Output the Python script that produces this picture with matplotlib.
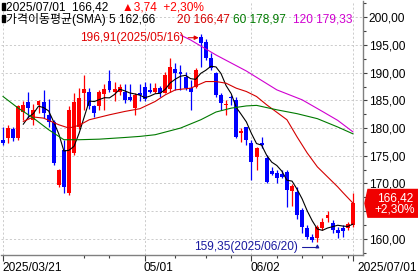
import numpy as np
import pandas as pd
import matplotlib
matplotlib.use("Agg")
import matplotlib.pyplot as plt
from matplotlib.patches import Polygon, Rectangle
from matplotlib.ticker import MultipleLocator, FixedLocator, FuncFormatter
import matplotlib.transforms as mtransforms

plt.rcParams["font.family"] = ["Liberation Sans", "Noto Sans CJK KR", "DejaVu Sans"]

# US session days shown on the chart (Good Friday, Memorial Day, Juneteenth closed)
HOLIDAYS = ["2025-04-18", "2025-05-26", "2025-06-19"]
dates = pd.bdate_range("2025-03-21", "2025-07-01", freq="C", holidays=HOLIDAYS)

opens = [177.85, 178.16, 179.78, 178.16, 182.96, 184.77, 181.46, 184.20, 184.77, 182.36,
         181.16, 169.73, 176.05, 168.23, 175.45, 180.25, 186.28, 186.50, 183.90, 184.00,
         186.20, 188.50, 186.60, 186.60, 186.60, 185.70, 183.60, 186.40, 187.50, 186.90,
         186.60, 187.30, 186.40, 187.00, 190.60, 190.20, 189.30, 187.20, 187.50, 196.50,
         195.60, 192.60, 189.90, 186.00, 184.20, 185.70, 185.00, 179.10, 180.25, 177.25,
         174.84, 177.37, 174.55, 172.30, 171.95, 171.80, 172.10, 168.70, 168.50, 165.22,
         161.90, 160.40, 160.10, 161.90, 163.70, 162.80, 161.60, 161.90, 161.90, 162.50]
highs = [180.20, 180.50, 180.20, 184.17, 184.80, 186.60, 184.40, 185.00, 186.90, 185.20,
         181.50, 172.70, 177.90, 183.90, 186.30, 187.20, 189.58, 187.20, 184.10, 186.90,
         188.00, 190.50, 188.40, 188.00, 188.00, 188.00, 186.30, 188.00, 188.30, 188.10,
         188.10, 187.60, 190.20, 192.60, 191.70, 191.40, 190.20, 188.70, 190.80, 196.91,
         196.00, 193.50, 190.20, 186.30, 185.00, 185.90, 185.70, 180.00, 180.25, 177.85,
         176.65, 178.45, 175.14, 173.03, 172.44, 172.40, 172.50, 169.90, 169.42, 165.52,
         162.50, 160.80, 162.50, 163.70, 165.00, 163.40, 162.20, 162.50, 163.10, 168.20]
lows = [177.00, 177.30, 177.60, 177.90, 181.50, 181.80, 180.60, 182.70, 181.80, 180.25,
        173.40, 169.40, 168.20, 167.92, 175.20, 179.90, 183.27, 183.40, 182.00, 183.30,
        183.20, 186.50, 184.80, 186.00, 184.50, 184.80, 182.40, 184.90, 184.90, 186.30,
        186.30, 185.70, 186.30, 186.60, 186.90, 186.90, 186.90, 183.30, 187.20, 191.10,
        192.30, 190.50, 185.70, 183.30, 182.40, 184.20, 178.20, 177.50, 176.95, 170.63,
        172.44, 176.35, 170.04, 171.53, 170.04, 171.00, 165.81, 166.00, 163.50, 161.00,
        160.00, 159.50, 159.35, 161.60, 163.00, 161.00, 160.10, 160.40, 161.60, 162.20]
closes = [177.25, 179.96, 178.16, 183.99, 184.17, 183.57, 183.27, 184.80, 182.67, 181.16,
          173.65, 172.44, 169.42, 183.27, 184.77, 185.38, 187.00, 184.00, 182.80, 186.60,
          187.00, 186.90, 187.10, 187.50, 185.10, 185.10, 186.00, 186.00, 185.20, 186.60,
          187.20, 186.40, 189.60, 191.10, 189.90, 189.80, 187.20, 186.60, 190.50, 195.30,
          192.60, 190.80, 186.00, 184.50, 184.40, 185.40, 178.40, 179.50, 177.85, 173.94,
          176.35, 176.95, 170.33, 171.70, 170.90, 171.20, 168.80, 169.55, 164.30, 162.20,
          160.40, 159.80, 162.20, 163.10, 164.30, 161.60, 161.10, 161.50, 162.68, 166.42]

# longer averages need history before the window: values
ma20_idx = [4, 6, 8, 11, 13, 15, 17, 21, 24, 27, 30, 32, 34, 37, 40, 42, 44, 46, 48,
            50, 52, 56, 58, 60, 62, 64, 66, 67, 69]
ma20_val = [181.2, 182.0, 181.8, 180.6, 180.0, 180.5, 181.5, 182.4, 183.0, 183.5, 184.8,
            186.0, 186.9, 187.2, 188.4, 188.4, 188.1, 187.2, 186.6, 185.7, 184.2, 181.5,
            178.4, 175.5, 173.0, 171.2, 169.4, 168.4, 166.47]
ma60_idx = [0, 3, 6, 9, 12, 15, 19, 24, 27, 30, 35, 39, 42, 45, 48, 50, 54, 58, 62, 66, 69]
ma60_val = [185.7, 183.6, 181.8, 179.7, 177.9, 177.9, 178.0, 178.3, 178.5, 178.8, 180.0,
            181.5, 182.9, 183.6, 184.0, 184.1, 183.3, 182.6, 181.7, 180.2, 178.97]
ma120_idx = [35, 37, 42, 48, 54, 59, 63, 66, 69]
ma120_val = [196.8, 195.9, 193.2, 190.3, 186.9, 185.1, 183.0, 181.4, 179.33]

RED = "#ff0000"
BLUE = "#0000ff"
MA_COLORS = {"5": "black", "20": "#d40000", "60": "#007a00", "120": "#d000d0"}


def kfmt(v):
    return f"{v:.2f}".replace(".", ",")


W, H = 418, 275
fig = plt.figure(figsize=(W / 100, H / 100), dpi=100)
ax = fig.add_axes([1 / W, 20 / H, 362 / W, 254 / H])

o, h, l, c = (np.array(a) for a in (opens, highs, lows, closes))
x = np.arange(len(c))
col = np.where(c >= o, RED, BLUE)

ax.vlines(x, l, h, colors=col, lw=0.9, zorder=3)
ax.bar(x, np.maximum(np.abs(c - o), 0.15), bottom=np.minimum(o, c), width=0.78,
       color=col, lw=0, zorder=4)

ma5 = pd.Series(c).rolling(5).mean()
ax.plot(x, ma5, color=MA_COLORS["5"], lw=0.8, zorder=5)
ax.plot(ma20_idx, ma20_val, color=MA_COLORS["20"], lw=0.8, zorder=5)
ax.plot(ma60_idx, ma60_val, color=MA_COLORS["60"], lw=0.8, zorder=5)
ax.plot(ma120_idx, ma120_val, color=MA_COLORS["120"], lw=0.8, zorder=5)

ax.set_xlim(-0.4, 71.0)
ax.set_ylim(157.09, 202.94)

last = c[-1]
chg = c[-1] - c[-2]
pct = chg / c[-2] * 100
TAG_HALF = 2.5


def price_label(v, _):
    # labels sitting under the price tag are hidden by it
    if abs(v - last) < TAG_HALF - 0.5:
        return ""
    return kfmt(v)


# right price axis
ax.yaxis.tick_right()
ax.yaxis.set_major_locator(MultipleLocator(5))
ax.yaxis.set_minor_locator(MultipleLocator(2.5))
ax.yaxis.set_major_formatter(FuncFormatter(price_label))
ax.tick_params(axis="y", which="major", length=3, width=0.8, pad=1, labelsize=8.6,
               color="#404040", labelcolor="black")
ax.tick_params(axis="y", which="minor", length=2, width=0.8, color="#404040")

# date axis
major_idx = [0, 28, 49, 69]
major_lab = [dates[0].strftime("%Y/%m/%d"), dates[28].strftime("%m/%d"),
             dates[49].strftime("%m/%d"), dates[69].strftime("%Y/%m/%d")]
ax.set_xticks(major_idx)
ax.set_xticklabels(major_lab)
ax.xaxis.set_minor_locator(FixedLocator([16, 21, 34, 40, 45, 54, 59, 63, 68]))
ax.tick_params(axis="x", which="major", length=4, width=0.8, pad=1, labelsize=8.6,
               color="#404040")
ax.tick_params(axis="x", which="minor", length=2.5, width=0.8, color="#404040")
for i, lab in enumerate(ax.get_xticklabels()):
    lab.set_ha("left")
    dx = 5 if i == len(major_idx) - 1 else -1
    lab.set_transform(lab.get_transform()
                      + mtransforms.ScaledTranslation(dx / 100, 0, fig.dpi_scale_trans))

ax.grid(True, axis="both", which="major", color="#c4c4c4", ls=(0, (2.5, 2.5)), lw=0.6)
ax.set_axisbelow(True)
for s in ("left", "top"):
    ax.spines[s].set_visible(False)
for s in ("right", "bottom"):
    ax.spines[s].set_color("#808080")
    ax.spines[s].set_linewidth(1.0)

# high / low markers
hi_i = int(np.argmax(h))
lo_i = int(np.argmin(l))
ax.annotate(f"{kfmt(h[hi_i])}({dates[hi_i].strftime('%Y/%m/%d')})",
            xy=(hi_i - 0.4, h[hi_i] - 0.6), xytext=(hi_i - 3.3, h[hi_i] - 0.6),
            ha="right", va="center", fontsize=8.6, color="#e00000",
            arrowprops=dict(arrowstyle="-|>", color="#e00000", lw=0.8,
                            shrinkA=1, shrinkB=0, mutation_scale=6), zorder=6)
ax.annotate(f"{kfmt(l[lo_i])}({dates[lo_i].strftime('%Y/%m/%d')})",
            xy=(lo_i, l[lo_i] - 0.25), xytext=(lo_i - 3.9, l[lo_i] - 0.85),
            ha="right", va="center", fontsize=8.6, color="#1a1aa0",
            arrowprops=dict(arrowstyle="-|>", color="#1a1aa0", lw=0.8,
                            shrinkA=1, shrinkB=0, mutation_scale=5,
                            connectionstyle="angle,angleA=0,angleB=90,rad=0"),
            zorder=6)

# current price tag on the axis
ytr = ax.get_yaxis_transform()
tag = Polygon([(1.0055, last), (1.0138, last + TAG_HALF), (1.16, last + TAG_HALF),
               (1.16, last - TAG_HALF), (1.0138, last - TAG_HALF)],
              closed=True, transform=ytr, clip_on=False, color="#f00000", zorder=10)
ax.add_patch(tag)
ax.text(1.088, last + 0.95, kfmt(last), transform=ytr, ha="center", va="center",
        color="white", fontsize=8.6, zorder=11, clip_on=False)
ax.text(1.088, last - 1.05, f"+{kfmt(pct)}%", transform=ytr, ha="center", va="center",
        color="white", fontsize=8.6, zorder=11, clip_on=False)


# header lines
def htext(px, py, s, color="black"):
    fig.text(px / W, 1 - py / H, s, ha="left", va="center", fontsize=8.6, color=color)


for py in (6.5, 18.5):
    fig.add_artist(Rectangle((2 / W, 1 - (py + 3.5) / H), 3 / W, 7 / H,
                             transform=fig.transFigure, color="black"))
htext(6, 7, f"{dates[-1].strftime('%Y/%m/%d')}  {kfmt(last)}")
htext(122, 7, f"▲{kfmt(chg)}  +{kfmt(pct)}%", RED)
htext(6, 19, f"가격이동평균(SMA) 5 {kfmt(ma5.iloc[-1])}")
htext(177, 19, f"20 {kfmt(ma20_val[-1])}", MA_COLORS["20"])
htext(233, 19, f"60 {kfmt(ma60_val[-1])}", MA_COLORS["60"])
htext(293, 19, f"120 {kfmt(ma120_val[-1])}", MA_COLORS["120"])

fig.savefig("out.png", dpi=100)
